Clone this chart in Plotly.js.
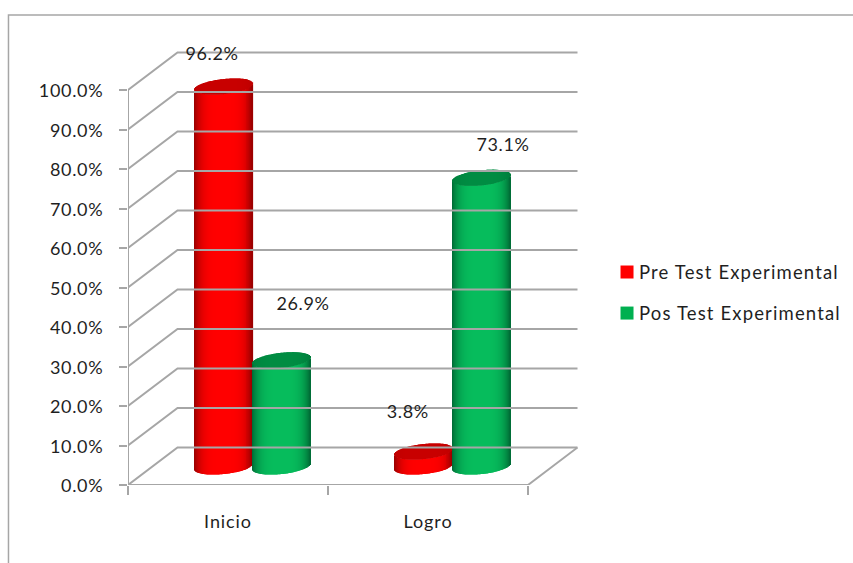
<!DOCTYPE html>
<html>
<head>
<meta charset="utf-8">
<script src="https://cdn.plot.ly/plotly-3.0.1.min.js"></script>
<style>
html,body{margin:0;padding:0;background:#fff}
#chart{width:853px;height:563px}
#chart .ytick text{letter-spacing:.7px}
#chart .xtick text{letter-spacing:.9px}
#chart .legendtext{letter-spacing:1.15px}
#chart .annotation-text{letter-spacing:.6px}
</style>
</head>
<body>
<div id="chart"></div>
<script>
// Data
const categories = ['Inicio', 'Logro'];
const seriesNames = ['Pre Test Experimental', 'Pos Test Experimental'];
const preTest = [96.2, 3.8];
const posTest = [26.9, 73.1];
const yTicks = [0, 10, 20, 30, 40, 50, 60, 70, 80, 90, 100];

// Styling / 3D projection settings
const FONT = 'Lato, sans-serif';
const TXT = '#1f1f1f';
const GRID = '#a6a6a6';
const depthX = 0.2475, depthY = 9.5;      // oblique offset of the back wall
const floorC = 4.68;                      // height of cylinder base centre above the front floor edge
const capH = 1.9, capTilt = 0.76;         // cap half height and tilt (y units)
const radius = 0.145, groupOff = 0.1445, groupShift = 0.1245; // cylinder geometry (x units)
const N = 59;

function mix(a, b, f) {
  return 'rgb(' + a.map((v, i) => Math.round(v + (b[i] - v) * f)).join(',') + ')';
}
function cylinder(values, sign, edge, centre, capEdge, capCentre) {
  const body = {x: [], y: [], base: [], width: [], c: []};
  const cap = {x: [], y: [], base: [], width: [], c: []};
  values.forEach((v, k) => {
    const cx = k + 0.5 + groupShift + sign * groupOff;
    for (let i = 0; i < N; i++) {
      const t = -1 + (2 * i + 1) / N;
      const s = Math.sqrt(1 - t * t);
      const f = 1 - Math.pow(Math.abs(t), 4);
      const low = floorC + capTilt * t - capH * s;
      const x = cx + t * radius;
      const w = 2 * radius / N * 1.25;
      body.x.push(x); body.y.push(v); body.base.push(low); body.width.push(w); body.c.push(mix(edge, centre, f));
      cap.x.push(x); cap.y.push(2 * capH * s); cap.base.push(low + v); cap.width.push(w); cap.c.push(mix(capEdge, capCentre, f));
    }
  });
  const make = p => ({type: 'bar', x: p.x, y: p.y, base: p.base, width: p.width,
    marker: {color: p.c, line: {width: 0}}, showlegend: false, hoverinfo: 'skip'});
  return [make(body), make(cap)];
}

// wall, floor and grid lines built from the tick list
const gx = [], gy = [];
yTicks.forEach(v => {
  gx.push(0, depthX, 2 + depthX, null);
  gy.push(v, v + depthY, v + depthY, null);
});
gx.push(0, 0, null, 0, 2, 2 + depthX, null);
gy.push(0, 100, null, 0, 0, depthY, null);

const frameTrace = {type: 'scatter', mode: 'lines', x: gx, y: gy, line: {color: GRID, width: 2},
  showlegend: false, hoverinfo: 'skip'};

const legendTrace = (name, color) => ({type: 'scatter', mode: 'markers', x: [null], y: [null], name: name,
  legendgroup: name, marker: {symbol: 'square', size: 13, color: color}, hoverinfo: 'skip'});

const data = [frameTrace]
  .concat(cylinder(preTest, -1, [150, 0, 0], [255, 0, 0], [190, 0, 0], [200, 0, 0]))
  .concat(cylinder(posTest, 1, [0, 105, 52], [6, 188, 92], [0, 125, 60], [0, 140, 66]))
  .concat([legendTrace(seriesNames[0], '#ff0000'), legendTrace(seriesNames[1], '#00b050')]);

const labelAt = (v, x, lift) => ({xref: 'x', yref: 'y', x: x, y: v + lift, text: v.toFixed(1) + '%',
  showarrow: false, font: {family: FONT, size: 18, color: TXT}});

const layout = {
  width: 853, height: 563,
  margin: {l: 128, r: 275, t: 40, b: 78},
  paper_bgcolor: '#fff', plot_bgcolor: 'rgba(0,0,0,0)',
  barmode: 'overlay',
  font: {family: FONT, color: TXT},
  xaxis: {
    type: 'linear', range: [0, 2.25], showgrid: false, zeroline: false, showline: false,
    tickmode: 'array', tickvals: [0.5, 1.5], ticktext: categories, ticks: '', ticklen: 0,
    ticklabelstandoff: 24,
    tickfont: {family: FONT, size: 18, color: TXT},
    minor: {tickmode: 'array', tickvals: [0, 1, 2], ticks: 'outside', ticklen: 9, tickwidth: 1.5, tickcolor: GRID, showgrid: false}
  },
  yaxis: {
    range: [0, 112.66], showgrid: false, zeroline: false, showline: false,
    tickmode: 'array', tickvals: yTicks, ticktext: yTicks.map(v => v.toFixed(1) + '%'),
    ticks: 'outside', ticklen: 8, tickwidth: 1.5, tickcolor: GRID,
    ticklabelstandoff: 12,
    tickfont: {family: FONT, size: 18, color: TXT}
  },
  showlegend: true,
  legend: {x: 1.0467, xanchor: 'left', y: 0.4315, yanchor: 'middle', font: {family: FONT, size: 18.5, color: TXT},
    tracegroupgap: 14, bgcolor: 'rgba(0,0,0,0)'},
  annotations: [
    labelAt(preTest[0], 0.42, 13.2),
    labelAt(posTest[0], 0.875, 19.15),
    labelAt(preTest[1], 1.4, 14.95),
    labelAt(posTest[1], 1.875, 13.2)
  ],
  shapes: [
    {type: 'path', xref: 'paper', yref: 'paper', path: 'M -0.2656,-0.2 L -0.2656,1.0562 L 1.62,1.0562', line: {color: GRID, width: 1.5}}
  ]
};

Plotly.newPlot('chart', data, layout, {displayModeBar: false, responsive: false}).then(gd => {
  // the reference keeps its legend keys close to their labels; wider tracking needs room past the measured box
  gd.querySelectorAll('.legend .scatterpts').forEach(p => p.setAttribute('transform', 'translate(28,0)'));
  gd.querySelectorAll('.legend .scrollbox').forEach(b => b.removeAttribute('clip-path'));
  // the reference's value labels sit a pixel lower against their ticks
  gd.querySelectorAll('.ytick text').forEach(t => t.setAttribute('y', parseFloat(t.getAttribute('y')) + 1));
});
</script>
</body>
</html>
